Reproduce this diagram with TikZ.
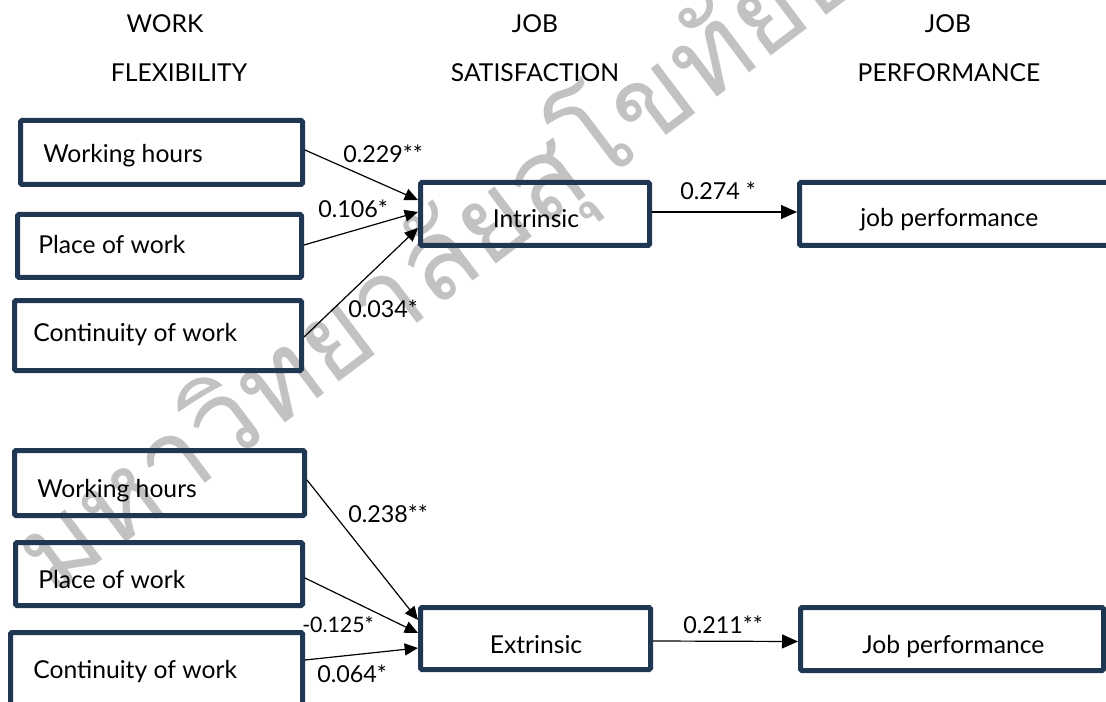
\documentclass[tikz,border=0pt]{standalone}
\usepackage{fontspec}
\setmainfont{Lato}
\newfontfamily\thaiwm[Script=Thai]{Loma}
\usetikzlibrary{arrows.meta,calc}
\definecolor{navy}{HTML}{1F3753}
\definecolor{wmgray}{HTML}{C2C2C2}
\begin{document}
\begin{tikzpicture}[x=0.75pt,y=-0.75pt,
 bx/.style 2 args={draw=navy, line width=3.75pt, rounded corners=1pt, inner sep=0pt,
   minimum width=#1*0.75pt, minimum height=#2*0.75pt},
 txt/.style={font=\fontsize{18.5}{22}\selectfont, inner sep=0pt, anchor=base west},
 head/.style={font=\fontsize{18.5}{22}\selectfont, inner sep=0pt, anchor=base},
 lab/.style={font=\fontsize{17.5}{22}\selectfont, inner sep=0pt, anchor=base west},
 conn/.style={line width=0.9pt, -{Triangle[length=10pt,width=9pt]}},
 wmark/.style={text=wmgray, font=\thaiwm\fontsize{84}{88}\selectfont, inner sep=0pt, rotate=37, anchor=base west},
]
\clip (0,0) rectangle (1106,702);
\fill[white] (0,0) rectangle (1106,702);
% watermark
\node[wmark] (wm) at (52.6,598) {มหาวิทยาลัยสุโขทัยธรรมาธิราช};

% headers
\node[head] (h1a) at (165,33) {WORK};
\node[head] (h1b) at (179,82) {FLEXIBILITY};
\node[head] (h2a) at (535,33) {JOB};
\node[head] (h2b) at (535,82) {SATISFACTION};
\node[head] (h3a) at (948,33) {JOB};
\node[head] (h3b) at (949,82) {PERFORMANCE};

% top group boxes
\node[bx={282}{64}] (wh1) at (161.5,152.5) {};
\node[bx={284}{63}] (pw1) at (159.5,246) {};
\node[bx={287}{70}] (cw1) at (158,335.5) {};
\node[bx={229}{63}] (intr) at (535,214) {};
\node[bx={312.5}{63}] (jp1) at (955.75,214) {};
\node[txt] (twh1) at (43,163) {Working hours};
\node[txt] (tpw1) at (38,253) {Place of work};
\node[txt] (tcw1) at (33,341) {Continuity of work};
\node[txt,anchor=base] (tintr) at (536,228) {Intrinsic};
\node[txt] (tjp1) at (860,227) {job performance};

% bottom group boxes
\node[bx={290}{65}] (wh2) at (159.5,483) {};
\node[bx={287}{63}] (pw2) at (159,574) {};
\node[bx={292}{85}] (cw2) at (156.5,675) {};
\node[bx={230}{62}] (extr) at (535.5,638.5) {};
\node[bx={303}{63}] (jp2) at (952,639) {};
\node[txt] (twh2) at (37,497) {Working hours};
\node[txt] (tpw2) at (38,588) {Place of work};
\node[txt] (tcw2) at (33,678) {Continuity of work};
\node[txt,anchor=base] (textr) at (536,653) {Extrinsic};
\node[txt] (tjp2) at (862,653) {Job performance};

% connectors top
\draw[conn] ($(wh1.east)+(0,-2.5)$) -- ($(intr.west)+(0,-14)$);
\draw[conn] ($(pw1.east)+(0,-1)$) -- ($(intr.west)+(0,-2)$);
\draw[conn] ($(cw1.east)+(0,1.5)$) -- ($(intr.west)+(0,14)$);
\draw[conn,-{Triangle[length=12pt,width=10.5pt]}] ($(intr.east)+(0,-2)$) -- ($(jp1.west)+(0,-2)$);
% connectors bottom
\draw[conn] ($(wh2.east)+(0,-3)$) -- ($(extr.west)+(0,-18.5)$);
\draw[conn] ($(pw2.east)+(0,4)$) -- ($(extr.west)+(0,-5.5)$);
\draw[conn] ($(cw2.east)+(0,-15)$) -- ($(extr.west)+(0,9.5)$);
\draw[conn,-{Triangle[length=12pt,width=10.5pt]}] ($(extr.east)+(0,2.5)$) -- ($(jp2.west)+(0,2.5)$);

% labels
\node[lab] (l1) at (343,163) {0.229**};
\node[lab] (l2) at (318,218) {0.106*};
\node[lab] (l3) at (348,317) {0.034*};
\node[lab] (l4) at (680,200) {0.274 *};
\node[lab] (l5) at (348,522) {0.238**};
\node[lab,font=\fontsize{16}{20}\selectfont] (l6) at (302,632) {-0.125*};
\node[lab] (l7) at (317,682) {0.064*};
\node[lab] (l8) at (683,633) {0.211**};
\end{tikzpicture}
\end{document}
